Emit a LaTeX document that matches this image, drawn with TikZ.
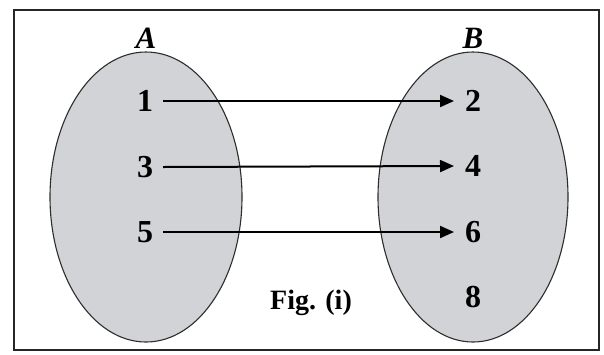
\documentclass[tikz,border=0pt]{standalone}
\usepackage{fontspec}
\setmainfont{Liberation Serif}
\usetikzlibrary{arrows.meta}
\definecolor{setfill}{RGB}{209,211,214}
\definecolor{setline}{RGB}{45,45,45}
\begin{document}
\begin{tikzpicture}[x=1pt,y=-1pt,
  setshape/.style={draw=setline,line width=1.1pt,fill=setfill},
  elem/.style={font=\fontsize{32}{32}\selectfont\bfseries,inner sep=1pt},
  figlabel/.style={font=\fontsize{28}{28}\selectfont\bfseries,inner sep=1pt},
  setname/.style={font=\fontsize{31}{31}\selectfont\bfseries\itshape,inner sep=0pt},
  mapto/.style={line width=2pt,-{Triangle[length=14pt,width=12pt]}}]
\useasboundingbox (0,0) rectangle (604,354);
\fill[white] (0,0) rectangle (604,354);
\draw[line width=1.8pt,black!85] (14,10) rectangle (599,350);
\draw[setshape] (146,197) ellipse [x radius=96, y radius=145];
\draw[setshape] (473,197) ellipse [x radius=95, y radius=145];
\node[setname] (A) at (146,38) {A};
\node[setname] (B) at (473,38) {B};
\node[elem] (n1) at (145,101) {1};
\node[elem] (n3) at (145,167) {3};
\node[elem] (n5) at (145,232) {5};
\node[elem] (n2) at (473,101) {2};
\node[elem] (n4) at (473,166) {4};
\node[elem] (n6) at (473,232) {6};
\node[elem] (n8) at (473,297) {8};
\node[figlabel] (fig) at (311,303) {Fig. (i)};
\coordinate (s1) at (163,101);
\coordinate (s3) at (163,167);
\coordinate (s5) at (163,232);
\coordinate (e2) at (454,101);
\coordinate (e4) at (454,166);
\coordinate (e6) at (454,232);
\draw[mapto] (s1) -- (e2);
\draw[mapto] (s3) -- (e4);
\draw[mapto] (s5) -- (e6);
\end{tikzpicture}
\end{document}
